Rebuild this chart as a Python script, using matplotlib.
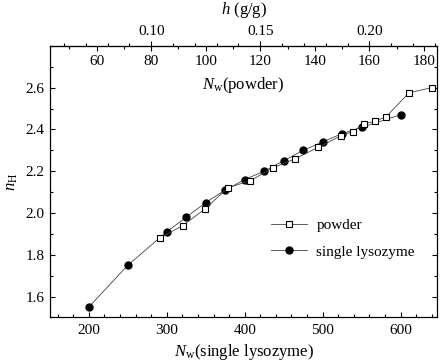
import matplotlib
matplotlib.use("Agg")
import matplotlib.pyplot as plt
from matplotlib.ticker import MultipleLocator, FixedLocator, FormatStrFormatter

plt.rcParams['font.family'] = 'Liberation Serif'
plt.rcParams['mathtext.fontset'] = 'custom'
plt.rcParams['mathtext.rm'] = 'Liberation Serif'
plt.rcParams['mathtext.it'] = 'Liberation Serif:italic'
plt.rcParams['font.size'] = 11

# single lysozyme: N_w vs n_H
single_nw = [200, 250, 300, 325, 350, 375, 400, 425, 450, 475, 500, 525, 550, 600]
single_nh = [1.55, 1.75, 1.91, 1.98, 2.05, 2.11, 2.16, 2.20, 2.25, 2.30, 2.34, 2.38, 2.41, 2.47]

# powder: N_w (powder) vs n_H
powder_nw = [83.1, 91.6, 99.8, 108.0, 116.4, 124.5, 132.9, 141.3, 149.7, 153.9, 157.9, 162.0, 166.1, 174.5, 182.8]
powder_nh = [1.88, 1.94, 2.02, 2.12, 2.155, 2.215, 2.26, 2.315, 2.37, 2.39, 2.425, 2.44, 2.46, 2.575, 2.60]

y_ticks = [1.6, 1.8, 2.0, 2.2, 2.4, 2.6]
h_ticks = [0.10, 0.15, 0.20]

# axis conversions
single_per_powder = 3.5
powder_per_h = 800.0

fig = plt.figure(figsize=(4.42, 3.64), dpi=100)
ax = fig.add_axes([0.113, 0.128, 0.876, 0.746])

l1, = ax.plot(single_nw, single_nh, '-o', color='#444444', lw=0.6, ms=5,
              mfc='k', mec='k', label='single lysozyme')
ax.set_xlim(150, 647)
ax.set_ylim(1.5, 2.8)

ax2 = ax.twiny()
l2, = ax2.plot(powder_nw, powder_nh, '-s', color='#444444', lw=0.6, ms=4.4,
               mfc='white', mec='k', mew=0.8, label='powder')
ax2.set_xlim(150 / single_per_powder, 647 / single_per_powder)

# bottom / left / right
ax.xaxis.set_major_locator(MultipleLocator(100))
ax.xaxis.set_minor_locator(MultipleLocator(20))
ax.yaxis.set_major_locator(FixedLocator(y_ticks))
ax.yaxis.set_minor_locator(MultipleLocator(0.1))
ax.yaxis.set_major_formatter(FormatStrFormatter('%.1f'))
ax.tick_params(axis='x', which='both', direction='in', top=False, pad=5)
ax.tick_params(axis='y', which='both', direction='in', left=True, right=True, pad=4)
ax.tick_params(which='major', length=3.5, width=0.8)
ax.tick_params(which='minor', length=2, width=0.8)
for s in ax.spines.values():
    s.set_linewidth(0.8)

ax.set_xlabel(r'$N_\mathrm{w}$(single lysozyme)', fontsize=12, labelpad=3)
ax.set_ylabel(r'$n_\mathrm{H}$', fontsize=12, labelpad=4)

# powder axis on top, ticks inside
ax2.xaxis.set_major_locator(MultipleLocator(20))
ax2.xaxis.set_minor_locator(MultipleLocator(10))
ax2.tick_params(axis='x', which='both', direction='in', pad=-16)
ax2.tick_params(which='major', length=3.5, width=0.8)
ax2.tick_params(which='minor', length=2, width=0.8)
ax2.text(0.5, 0.856, r'$N_\mathrm{w}$(powder)', transform=ax2.transAxes,
         ha='center', va='center', fontsize=12)

# hydration axis on top, ticks outside
sec = ax2.secondary_xaxis('top', functions=(lambda p: p / powder_per_h,
                                            lambda h: h * powder_per_h))
sec.xaxis.set_major_locator(FixedLocator(h_ticks))
sec.xaxis.set_minor_locator(MultipleLocator(0.01))
sec.xaxis.set_major_formatter(FormatStrFormatter('%.2f'))
sec.tick_params(which='major', direction='out', length=3.5, width=0.8, pad=2)
sec.tick_params(which='minor', direction='out', length=2, width=0.8)
fig.text(0.553, 1 - 10 / 364, r'$h$ (g/g)', ha='center', va='center', fontsize=12)

ax2.legend([l2, l1], ['powder', 'single lysozyme'], loc='upper left',
           bbox_to_anchor=(0.57, 0.365), frameon=False, borderpad=0,
           borderaxespad=0, handlelength=2.4, handletextpad=0.6,
           labelspacing=0.85, fontsize=11)

fig.savefig('out.png', dpi=100)
